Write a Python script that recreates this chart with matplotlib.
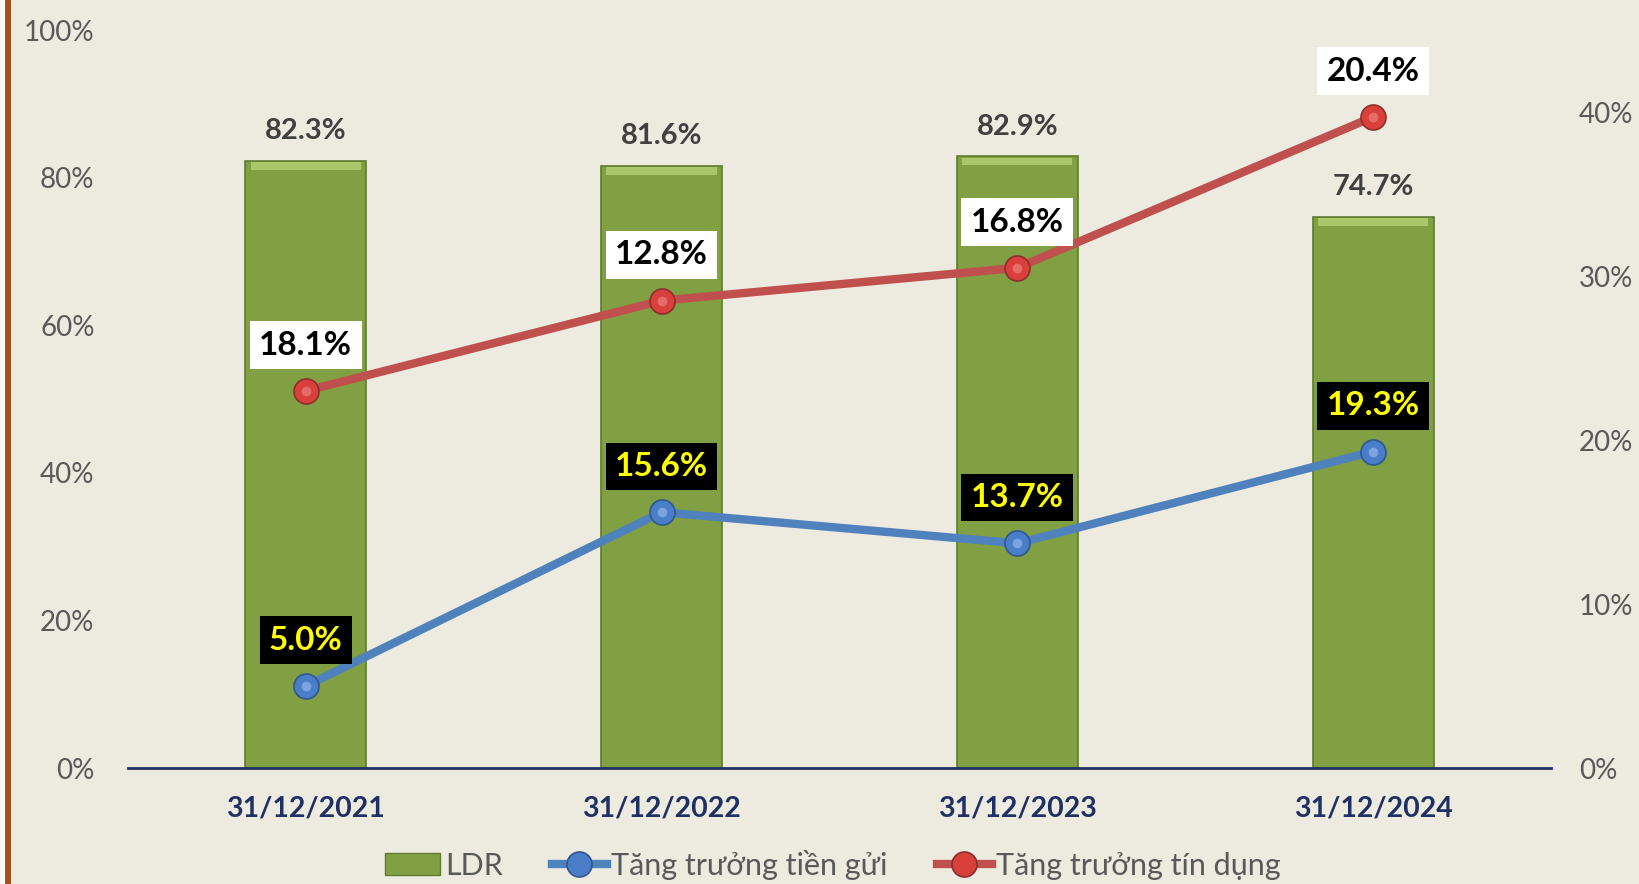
import matplotlib
matplotlib.use("Agg")
import matplotlib.pyplot as plt
from matplotlib.patches import Rectangle
import numpy as np

categories = ["31/12/2021", "31/12/2022", "31/12/2023", "31/12/2024"]
ldr = [82.3, 81.6, 82.9, 74.7]
deposit_growth = [5.0, 15.6, 13.7, 19.3]
credit_growth_pos = [23.0, 28.5, 30.5, 39.7]
credit_growth_labels = ["18.1%", "12.8%", "16.8%", "20.4%"]
deposit_labels = ["5.0%", "15.6%", "13.7%", "19.3%"]
left_ticks = [0, 20, 40, 60, 80, 100]
right_ticks = [0, 10, 20, 30, 40]

plt.rcParams['font.family'] = ['Lato', 'DejaVu Sans']
BG = "#EDEBE0"
fig = plt.figure(figsize=(16.4, 8.84), dpi=100, facecolor=BG)
ax = fig.add_axes([0.078, 0.1312, 0.8677, 0.8348])
ax.set_facecolor(BG)
x = np.arange(len(categories))

ax.bar(x, ldr, width=0.34, color="#80A043", edgecolor="#5F7B2F", linewidth=1.2, zorder=2)
# bevel highlight on top
ax.bar(x, [1.0] * len(ldr), bottom=[v - 1.2 for v in ldr], width=0.31, color="#A9C86A", linewidth=0, zorder=2.5)
for xi, v in zip(x, ldr):
    ax.annotate(f"{v:.1f}%", (xi, v), xytext=(0, 12), textcoords="offset points",
                ha="center", va="bottom", fontsize=21, fontweight="bold", color="#404040")

ax.set_xlim(-0.5, 3.5)
ax.set_ylim(0, 100)
ax.set_yticks(left_ticks)
ax.set_yticklabels([f"{t}%" for t in left_ticks], fontsize=20, color="#595959")
ax.set_xticks(x)
ax.set_xticklabels(categories, fontsize=20.5, fontweight="bold", color="#1F3064")
ax.tick_params(axis="y", length=0, pad=24)
ax.tick_params(axis="x", length=0, pad=20)
for s in ["top", "right", "left"]:
    ax.spines[s].set_visible(False)
ax.spines["bottom"].set_color("#1F3064")
ax.spines["bottom"].set_linewidth(2)
ax.spines["bottom"].set_zorder(5)

ax2 = ax.twinx()
ax2.set_ylim(0, 45)
ax2.set_yticks(right_ticks)
ax2.set_yticklabels([f"{t}%" for t in right_ticks], fontsize=20, color="#595959")
ax2.tick_params(axis="y", length=0, pad=20)
for s in ax2.spines.values():
    s.set_visible(False)

l1, = ax2.plot(x, deposit_growth, color="#4F81BD", lw=6, marker="o", ms=18,
               markerfacecolor="#4A7EC8", markeredgecolor="#2F5790", markeredgewidth=1.2, zorder=4)
l2, = ax2.plot(x, credit_growth_pos, color="#C0504D", lw=6, marker="o", ms=18,
               markerfacecolor="#D9403C", markeredgecolor="#8E2E2B", markeredgewidth=1.2, zorder=4)
# highlights on spheres
ax2.plot(x, deposit_growth, ls="none", marker="o", ms=7, markerfacecolor="#9CC0EE", markeredgewidth=0, alpha=0.6, zorder=4.5)
ax2.plot(x, credit_growth_pos, ls="none", marker="o", ms=7, markerfacecolor="#F08A86", markeredgewidth=0, alpha=0.6, zorder=4.5)

for xi, v, lab in zip(x, deposit_growth, deposit_labels):
    ax2.annotate(lab, (xi, v), xytext=(0, 33), textcoords="offset points", ha="center", va="center",
                 fontsize=24, fontweight="bold", color="#FFFF00", zorder=6,
                 bbox=dict(boxstyle="square,pad=0.28", fc="black", ec="none"))
for xi, v, lab in zip(x, credit_growth_pos, credit_growth_labels):
    ax2.annotate(lab, (xi, v), xytext=(0, 33), textcoords="offset points", ha="center", va="center",
                 fontsize=24, fontweight="bold", color="black", zorder=6,
                 bbox=dict(boxstyle="square,pad=0.28", fc="white", ec="none"))

# legend
ldr_handle = Rectangle((0, 0), 1, 1, fc="#80A043", ec="#5F7B2F")
fig.legend([ldr_handle, l1, l2], ["LDR", "Tăng trưởng tiền gửi", "Tăng trưởng tín dụng"],
           loc="center", bbox_to_anchor=(0.508, 0.022), ncol=3, frameon=False,
           fontsize=22, labelcolor="#595959", handlelength=1.8, columnspacing=1.6,
           handletextpad=0.15, borderpad=0.0)

# left border strip
fig.add_artist(Rectangle((0, 0), 5 / 1640, 1, transform=fig.transFigure, fc="#FDF5F0", ec="none"))
fig.add_artist(Rectangle((5 / 1640, 0), 6 / 1640, 1, transform=fig.transFigure, fc="#A0521E", ec="none"))

fig.savefig("out.png", dpi=100, facecolor=BG)
